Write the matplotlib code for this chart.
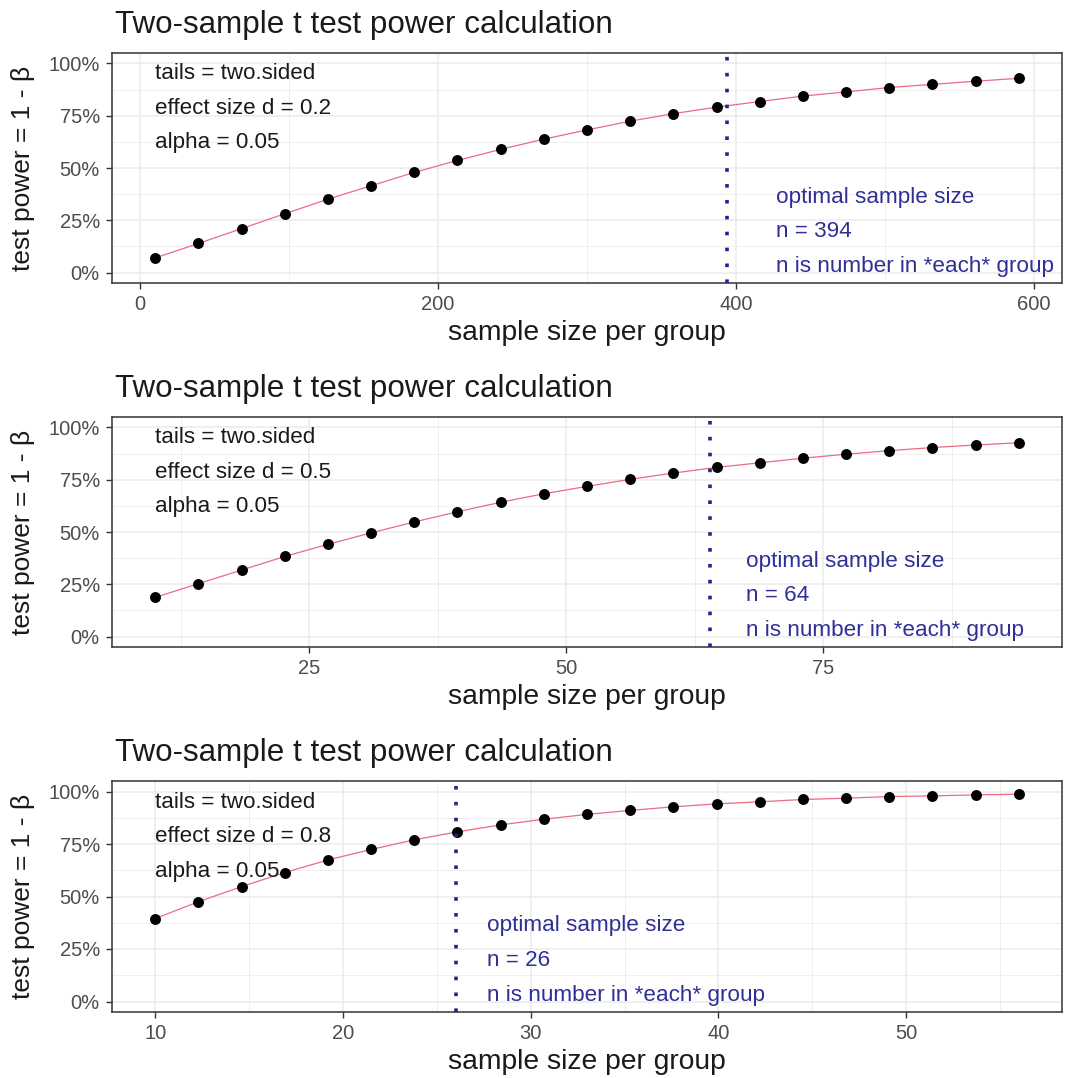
import matplotlib
matplotlib.use("Agg")
import matplotlib.pyplot as plt
import numpy as np
from matplotlib.ticker import FixedLocator

plt.rcParams['font.family'] = ['Liberation Sans', 'DejaVu Sans']

# ---- data ----
n_d02 = [10, 39, 68, 97, 126, 155, 184, 213, 242, 271, 300, 329, 358, 387, 416,
         445, 474, 503, 532, 561, 590]
pow_d02 = [0.070, 0.139, 0.210, 0.281, 0.351, 0.415, 0.479, 0.536, 0.589, 0.638,
           0.682, 0.724, 0.760, 0.791, 0.818, 0.844, 0.864, 0.885, 0.900, 0.915, 0.929]

n_d05 = [10.0, 14.2, 18.4, 22.6, 26.8, 31.0, 35.2, 39.4, 43.6, 47.8, 52.0, 56.2,
         60.4, 64.6, 68.8, 73.0, 77.2, 81.4, 85.6, 89.8, 94.0]
pow_d05 = [0.187, 0.253, 0.318, 0.383, 0.441, 0.496, 0.548, 0.597, 0.642, 0.683,
           0.718, 0.752, 0.782, 0.809, 0.831, 0.853, 0.872, 0.889, 0.904, 0.916, 0.927]

n_d08 = [10.0, 12.3, 14.6, 16.9, 19.2, 21.5, 23.8, 26.1, 28.4, 30.7, 33.0, 35.3,
         37.6, 39.9, 42.2, 44.5, 46.8, 49.1, 51.4, 53.7, 56.0]
pow_d08 = [0.395, 0.475, 0.547, 0.614, 0.674, 0.724, 0.770, 0.808, 0.841, 0.868,
           0.891, 0.910, 0.927, 0.941, 0.951, 0.962, 0.968, 0.976, 0.979, 0.984, 0.987]

effect_sizes = ["0.2", "0.5", "0.8"]
optimal_n = [394, 64, 26]
x_ticks = [[0, 200, 400, 600], [25, 50, 75], [10, 20, 30, 40, 50]]
x_minor = [[-100, 100, 300, 500], [12.5, 37.5, 62.5, 87.5], [15, 25, 35, 45, 55]]
y_ticks = [0, 0.25, 0.5, 0.75, 1.0]
y_tick_labels = ["0%", "25%", "50%", "75%", "100%"]
y_minor = [0.125, 0.375, 0.625, 0.875]
blue_text_x = [427, 67.5, 27.7]

title = "Two-sample t test power calculation"
xlabel = "sample size per group"
ylabel = "test power = 1 - β"

W, H = 1080, 1078
fig = plt.figure(figsize=(W / 100, H / 100), dpi=100)

panels = [(n_d02, pow_d02), (n_d05, pow_d05), (n_d08, pow_d08)]
tops = [53, 417, 781]
bottoms = [283, 647, 1012]
title_y = [25, 389, 753]
left, right = 112, 1062

line_blue = '#23238C'
text_blue = '#2F2F96'
red = '#EC6B82'
grid_c = '#EBEBEB'
tick_c = '#4D4D4D'
dark = '#1A1A1A'

for i, (xs, ys) in enumerate(panels):
    ax = fig.add_axes([left / W, 1 - bottoms[i] / H, (right - left) / W,
                       (bottoms[i] - tops[i]) / H])
    rng = xs[-1] - xs[0]
    ax.set_xlim(xs[0] - 0.05 * rng, xs[-1] + 0.05 * rng)
    ax.set_ylim(-0.05, 1.05)

    # grid
    for v in y_ticks:
        ax.axhline(v, color=grid_c, lw=1.1, zorder=0)
    for v in y_minor:
        ax.axhline(v, color=grid_c, lw=0.55, zorder=0)
    for v in x_ticks[i]:
        ax.axvline(v, color=grid_c, lw=1.1, zorder=0)
    for v in x_minor[i]:
        ax.axvline(v, color=grid_c, lw=0.55, zorder=0)

    ax.plot(xs, ys, color=red, lw=0.9, zorder=2)
    ax.scatter(xs, ys, s=62, color='black', zorder=3, linewidths=0)
    ax.axvline(optimal_n[i], color=line_blue, lw=2.6, ls=(0, (1.0, 3.4)),
               zorder=4)

    # annotations
    left_lines = ["tails = two.sided", f"effect size d = {effect_sizes[i]}",
                  "alpha = 0.05"]
    for k, t in enumerate(left_lines):
        ax.text(xs[0], [0.95, 0.785, 0.62][k], t, fontsize=16.1, color=dark,
                va='center', ha='left', zorder=5)
    right_lines = ["optimal sample size", f"n = {optimal_n[i]}",
                   "n is number in *each* group"]
    for k, t in enumerate(right_lines):
        ax.text(blue_text_x[i], [0.36, 0.195, 0.03][k], t, fontsize=16.2,
                color=text_blue, va='center', ha='left', zorder=5)

    ax.xaxis.set_major_locator(FixedLocator(x_ticks[i]))
    ax.set_xticklabels([str(v) for v in x_ticks[i]])
    ax.set_yticks(y_ticks)
    ax.set_yticklabels(y_tick_labels)
    ax.tick_params(axis='both', colors='#333333', labelcolor=tick_c,
                   labelsize=14.5, length=4.3, width=1.0, direction='out', pad=4.5)
    for sp in ax.spines.values():
        sp.set_color('#333333')
        sp.set_linewidth(1.1)

    fig.text(587 / W, 1 - (bottoms[i] + 50) / H, xlabel, fontsize=20.3, color=dark,
             ha='center', va='center')
    fig.text(23 / W, 1 - (tops[i] + bottoms[i]) / 2 / H, ylabel, fontsize=19,
             color=dark, ha='center', va='center', rotation=90)
    fig.text(115 / W, 1 - title_y[i] / H, title, fontsize=22.6, color=dark,
             va='center', ha='left')

fig.savefig('out.png', dpi=100, facecolor='white')
